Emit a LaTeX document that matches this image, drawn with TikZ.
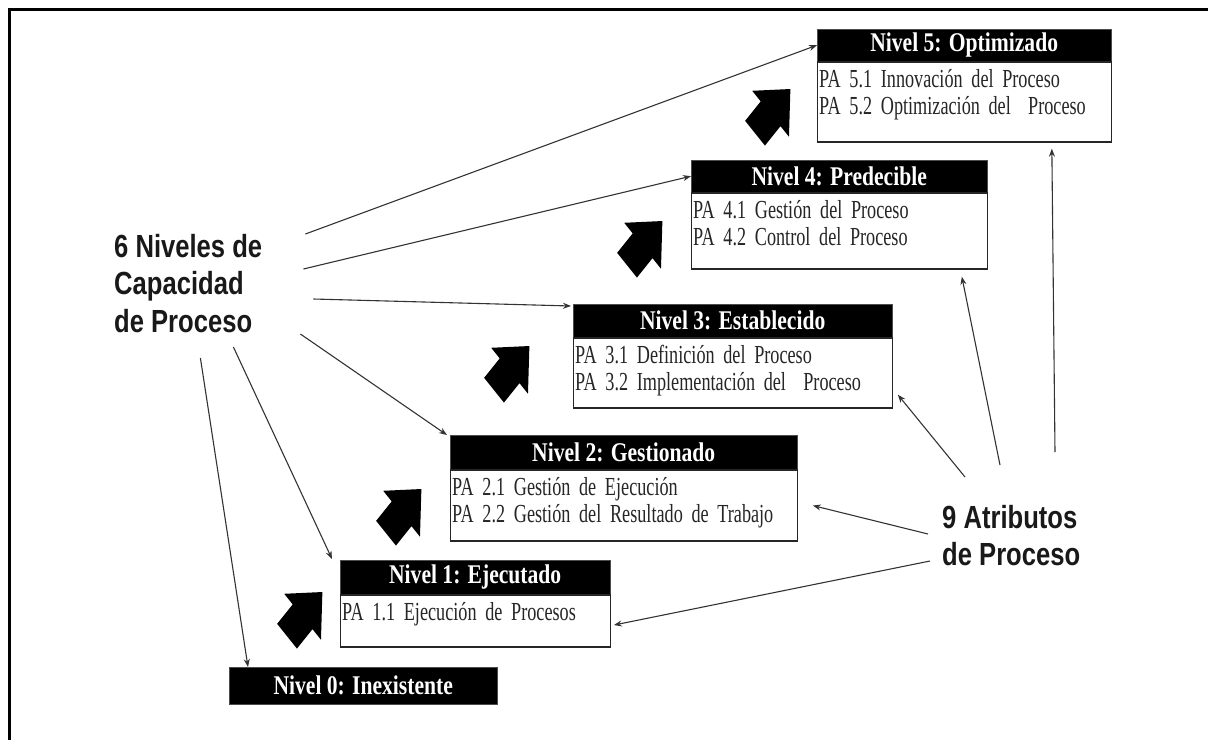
\documentclass[tikz,border=0pt]{standalone}
\usepackage{fontspec}
\usetikzlibrary{arrows.meta,positioning}
\newfontfamily\headfont{Liberation Serif}[FakeStretch=0.8]
\newfontfamily\boxfont{Liberation Serif}[FakeStretch=0.7]
\newfontfamily\labelfont{Liberation Sans}[FakeStretch=0.8]
\hyphenpenalty=10000

\tikzset{
    header/.style={anchor=north west, fill=black, draw=black!70, text=white, inner sep=0pt,
                   minimum height=34, font=\headfont\bfseries\fontsize{27}{27}\selectfont},
    body/.style={draw=black!85, line width=1.3pt, fill=white, inner xsep=2pt, inner ysep=7pt,
                 align=left, text height=18pt, text=black!85,
                 font=\boxfont\fontsize{26}{27}\selectfont},
    biglabel/.style={anchor=north west, inner sep=0pt, align=left, text=black!90,
                     font=\labelfont\bfseries\fontsize{32}{37.5}\selectfont},
    conn/.style={draw=black!80, line width=1.1pt, -{Stealth[length=8pt,width=6pt]}},
    bigarrow/.pic={\fill (-24,-14) -- (-2,-14) -- (-2,-26) -- (26,0) -- (-2,26) -- (-2,14) -- (-24,14) -- cycle;}
}

\begin{document}
\begin{tikzpicture}[x=1pt, y=-1pt]
\useasboundingbox (0,0) rectangle (1208,740);
\draw[line width=3pt] (9,740) -- (9,9) -- (1208,9);

% levels
\node[header, minimum width=294, minimum height=32] (h5) at (817,29) {Nivel 5: Optimizado};
\node[body, text width=290, text depth=48, below=0pt of h5] (b5)
    {PA 5.1 Innovación del Proceso\\PA 5.2 Optimización del~ Proceso};
\node[header, minimum width=296, minimum height=32] (h4) at (691,160) {Nivel 4: Predecible};
\node[body, text width=292, text depth=44, below=0pt of h4] (b4)
    {PA 4.1 Gestión del Proceso\\PA 4.2 Control del Proceso};
\node[header, minimum width=319, minimum height=33] (h3) at (573,304) {Nivel 3: Establecido};
\node[body, text width=315, text depth=38, below=0pt of h3] (b3)
    {PA 3.1 Definición del Proceso\\PA 3.2 Implementación del~ Proceso};
\node[header, minimum width=347] (h2) at (450,435) {Nivel 2: Gestionado};
\node[body, text width=343, text depth=39, below=0pt of h2] (b2)
    {PA 2.1 Gestión de Ejecución\\PA 2.2 Gestión del Resultado de Trabajo};
\node[header, minimum width=270] (h1) at (340,560) {Nivel 1: Ejecutado};
\node[body, text width=266, text depth=20, below=0pt of h1] (b1)
    {PA 1.1 Ejecución de Procesos};
\node[header, minimum width=268, minimum height=37] (h0) at (229,667) {Nivel 0: Inexistente};

% steps
\pic[yscale=1.25, rotate=45] at (772,112) {bigarrow};
\pic[yscale=1.25, rotate=45] at (644,244) {bigarrow};
\pic[yscale=1.25, rotate=45] at (511,369) {bigarrow};
\pic[yscale=1.25, rotate=45] at (403,512) {bigarrow};
\pic[yscale=1.25, rotate=45] at (304,615) {bigarrow};

% labels
\node[biglabel] (niveles) at (114,234) {6 Niveles de\\Capacidad\\de Proceso};
\node[biglabel] (atributos) at (942,505) {9 Atributos\\de Proceso};

% connectors
\draw[conn] ([shift={(43,0)}]niveles.north east) -- (h5.west);
\draw[conn] ([shift={(41,35)}]niveles.north east) -- (h4.west);
\draw[conn] ([shift={(51,65)}]niveles.north east) -- ([shift={(-2,2)}]h3.north west);
\draw[conn] ([shift={(38,100)}]niveles.north east) -- ([shift={(-3,0)}]h2.north west);
\draw[conn] ([shift={(-29,113)}]niveles.north east) -- ([shift={(-8,-1)}]h1.north west);
\draw[conn] ([shift={(-62,124)}]niveles.north east) -- ([shift={(19,0)}]h0.north west);

\draw[conn] ([shift={(23,-28)}]atributos.north west) -- ([shift={(5,-14)}]b3.south east);
\draw[conn] ([shift={(58,-40)}]atributos.north west) -- ([shift={(-26,7)}]b4.south east);
\draw[conn] ([shift={(113,-53)}]atributos.north west) -- ([shift={(-60,6)}]b5.south east);
\draw[conn] ([shift={(-14,29)}]atributos.north west) -- ([shift={(15,0)}]b2.east);
\draw[conn] ([shift={(-12,56)}]atributos.north west) -- ([shift={(3,4)}]b1.east);
\end{tikzpicture}
\end{document}
